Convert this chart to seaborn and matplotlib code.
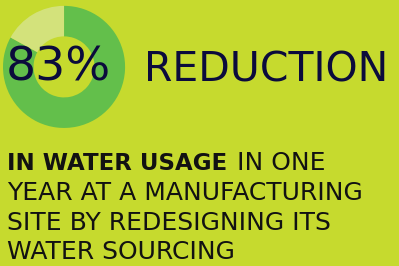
import matplotlib
matplotlib.use('Agg')
import matplotlib.pyplot as plt
import seaborn as sns

# data
parts = ['reduced', 'remaining']
shares = [83, 17]
headline = '83%'
label = 'REDUCTION'
bold_lead = 'IN WATER USAGE'
lines = ['IN ONE', 'YEAR AT A MANUFACTURING', 'SITE BY REDESIGNING ITS', 'WATER SOURCING']

bg = '#c6da2e'
ring_cols = ['#63bf4b', '#d3e27b']
navy = '#0b0b3c'
ink = '#121212'

sns.set_theme(style='white', rc={'figure.facecolor': bg, 'axes.facecolor': bg})
plt.rcParams['font.family'] = ['DejaVu Sans']

fig = plt.figure(figsize=(3.99, 2.66), dpi=100)

# donut
ax = fig.add_axes([0.0075, 0.519, 0.306, 0.459])
ax.pie(shares, colors=ring_cols, startangle=90, counterclock=False,
       wedgeprops=dict(width=0.5, linewidth=0))
ax.set_xlim(-1, 1)
ax.set_ylim(-1, 1)
ax.set_aspect('equal')
ax.axis('off')

fig.text(0.014, 0.699, headline, color=navy, fontsize=34, va='baseline', ha='left')
fig.text(0.361, 0.692, label, color=navy, fontsize=29.5, va='baseline', ha='left')

# lower text block
t1 = fig.text(0.0175, 0.36, bold_lead, color=ink, fontsize=16.5,
              fontweight='bold', va='baseline', ha='left')
fig.gca().annotate(lines[0], xy=(1, 0), xycoords=t1, xytext=(7, 0),
                   textcoords='offset points', color=ink, fontsize=18,
                   va='bottom', ha='left', annotation_clip=False)
ys = [0.247, 0.135, 0.025]
for y, s in zip(ys, lines[1:]):
    fig.text(0.0175, y, s, color=ink, fontsize=18, va='baseline', ha='left')

fig.savefig('out.png', dpi=100, facecolor=bg)
